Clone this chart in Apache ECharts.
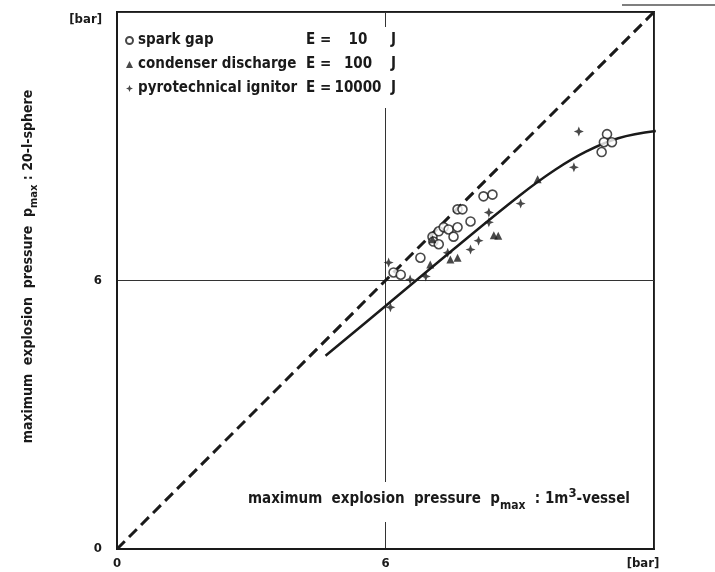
<!DOCTYPE html>
<html>
<head>
<meta charset="utf-8">
<script src="https://cdn.jsdelivr.net/npm/echarts@6/dist/echarts.min.js"></script>
<style>
  html, body { margin: 0; padding: 0; background: #fff; }
  #chart { width: 715px; height: 572px; }
</style>
</head>
<body>
<div id="chart"></div>
<script>
// Maximum explosion pressure: 20-l-sphere vs 1 m3 vessel [bar]
const axisTicks = [0, 6, 12];

// spark gap, E = 10 J
const sparkGap = [
  [6.18, 6.18], [6.34, 6.13], [6.78, 6.51], [7.05, 6.98], [7.19, 7.10],
  [7.30, 7.19], [7.41, 7.14], [7.61, 7.19], [7.07, 6.87], [7.19, 6.81],
  [7.52, 6.98], [7.90, 7.32], [7.61, 7.59], [7.72, 7.59], [8.19, 7.88],
  [8.39, 7.92], [10.95, 9.27], [10.88, 9.09], [11.06, 9.09], [10.83, 8.87]
];

// condenser discharge, E = 100 J
const condenserDischarge = [
  [7.05, 6.92], [7.00, 6.36], [7.45, 6.47], [7.61, 6.51], [8.42, 7.01],
  [8.52, 7.00], [9.40, 8.26]
];

// pyrotechnical ignitor, E = 10000 J
const pyroIgnitor = [
  [6.07, 6.40], [6.11, 5.40], [6.55, 6.02], [6.90, 6.09], [7.39, 6.62],
  [7.90, 6.69], [8.08, 6.89], [8.31, 7.30], [8.31, 7.52], [9.02, 7.72],
  [10.32, 9.33], [10.21, 8.53]
];

// fitted trend through the measurements
const fitCurve = [
  [4.66, 4.32], [6.0, 5.43], [7.5, 6.68], [9.0, 7.90], [9.8, 8.48],
  [10.5, 8.89], [11.2, 9.18], [12.04, 9.34]
];

// equal-pressure reference line
const identityLine = [[0, 0], [12.04, 12.04]];

const energies = { 'spark gap': '10', 'condenser discharge': '100', 'pyrotechnical ignitor': '10000' };

const FONT = '"Liberation Sans Narrow", "DejaVu Sans Condensed", "Liberation Sans", sans-serif';
const INK = '#1a1a1a';

const plusPath = 'path://M5,0 L6.4,3.6 L10,5 L6.4,6.4 L5,10 L3.6,6.4 L0,5 L3.6,3.6 Z';

const chart = echarts.init(document.getElementById('chart'), null, { renderer: 'canvas' });

const tickLabel = (v) => (v === 12 ? '{u|[bar]}' : String(v));

chart.setOption({
  backgroundColor: '#fff',
  animation: false,
  textStyle: { fontFamily: FONT, color: INK },
  grid: {
    left: 117, top: 12, width: 537, height: 537,
    show: true, borderColor: INK, borderWidth: 2, backgroundColor: 'transparent'
  },
  legend: {
    data: ['spark gap', 'condenser discharge', 'pyrotechnical ignitor'],
    orient: 'vertical',
    left: 121, top: 27,
    itemWidth: 7, itemHeight: 7, itemGap: 9,
    padding: [6, 6, 12, 4],
    backgroundColor: '#fff',
    selectedMode: false,
    formatter: (name) => `{n|${name}}{e|E =}{v|${energies[name]}}{j|J}`,
    textStyle: {
      fontFamily: FONT, fontWeight: 'bold', fontSize: 15, color: INK,
      rich: {
        n: { width: 168, fontFamily: FONT, fontWeight: 'bold', fontSize: 15, color: INK },
        e: { width: 28, fontFamily: FONT, fontWeight: 'bold', fontSize: 15, color: INK },
        v: { width: 48, align: 'right', fontFamily: FONT, fontWeight: 'bold', fontSize: 15, color: INK },
        j: { padding: [0, 0, 0, 9], fontFamily: FONT, fontWeight: 'bold', fontSize: 15, color: INK }
      }
    }
  },
  xAxis: {
    type: 'value', min: axisTicks[0], max: axisTicks[2], interval: 6,
    axisLine: { show: true, lineStyle: { color: INK, width: 2 } },
    axisTick: { show: false },
    splitLine: { show: true, lineStyle: { color: '#333', width: 1 } },
    axisLabel: {
      margin: 8, fontFamily: FONT, fontWeight: 'bold', fontSize: 13, color: INK,
      formatter: tickLabel,
      rich: { u: { padding: [0, 22, 0, 0], fontFamily: FONT, fontWeight: 'bold', fontSize: 13, color: INK } }
    }
  },
  yAxis: {
    type: 'value', min: axisTicks[0], max: axisTicks[2], interval: 6,
    axisLine: { show: true, lineStyle: { color: INK, width: 2 } },
    axisTick: { show: false },
    splitLine: { show: true, lineStyle: { color: '#333', width: 1 } },
    axisLabel: {
      margin: 15, fontFamily: FONT, fontWeight: 'bold', fontSize: 13, color: INK,
      formatter: tickLabel,
      rich: { u: { padding: [16, 0, 0, 0], fontFamily: FONT, fontWeight: 'bold', fontSize: 13, color: INK } }
    },
    name: '{t|maximum  explosion  pressure  p}{s|max}{t| : 20-l-sphere}',
    nameLocation: 'middle',
    nameRotate: 90,
    nameGap: 77,
    nameTextStyle: {
      padding: [0, 0, 0, 28],
      rich: {
        t: { fontFamily: FONT, fontWeight: 'bold', fontSize: 14, color: INK },
        s: { fontFamily: FONT, fontWeight: 'bold', fontSize: 11, color: INK, padding: [13, 0, 0, 0] }
      }
    }
  },
  graphic: [
    {
      type: 'text', left: 244, top: 482, z: 10,
      style: {
        text: '{t|maximum  explosion  pressure  p}{s|max}{t|  : 1m}{p|3}{t|-vessel}',
        backgroundColor: '#fff', padding: [4, 4, 10, 4],
        rich: {
          t: { fontFamily: FONT, fontWeight: 'bold', fontSize: 15, fill: INK },
          s: { fontFamily: FONT, fontWeight: 'bold', fontSize: 12, fill: INK, padding: [14, 0, 0, 0] },
          p: { fontFamily: FONT, fontWeight: 'bold', fontSize: 13, fill: INK, padding: [0, 0, 10, 0] }
        }
      }
    },
    {
      type: 'line', z: 10,
      shape: { x1: 622, y1: 5, x2: 715, y2: 5 },
      style: { stroke: '#555', lineWidth: 1.5 }
    }
  ],
  series: [
    {
      name: 'identity', type: 'line', data: identityLine,
      showSymbol: false, symbol: 'none', silent: true, z: 2,
      lineStyle: { color: INK, width: 3, type: [11, 6] }
    },
    {
      name: 'trend', type: 'line', data: fitCurve,
      showSymbol: false, symbol: 'none', smooth: 0.4, silent: true, z: 2,
      lineStyle: { color: INK, width: 2.5 }
    },
    {
      name: 'spark gap', type: 'scatter', data: sparkGap,
      symbol: 'circle', symbolSize: 9, z: 3,
      itemStyle: { color: '#fff', borderColor: INK, borderWidth: 1.6 }
    },
    {
      name: 'condenser discharge', type: 'scatter', data: condenserDischarge,
      symbol: 'triangle', symbolSize: 8, z: 3,
      itemStyle: { color: INK }
    },
    {
      name: 'pyrotechnical ignitor', type: 'scatter', data: pyroIgnitor,
      symbol: plusPath, symbolSize: 10, z: 3,
      itemStyle: { color: INK }
    }
  ]
});
</script>
</body>
</html>
